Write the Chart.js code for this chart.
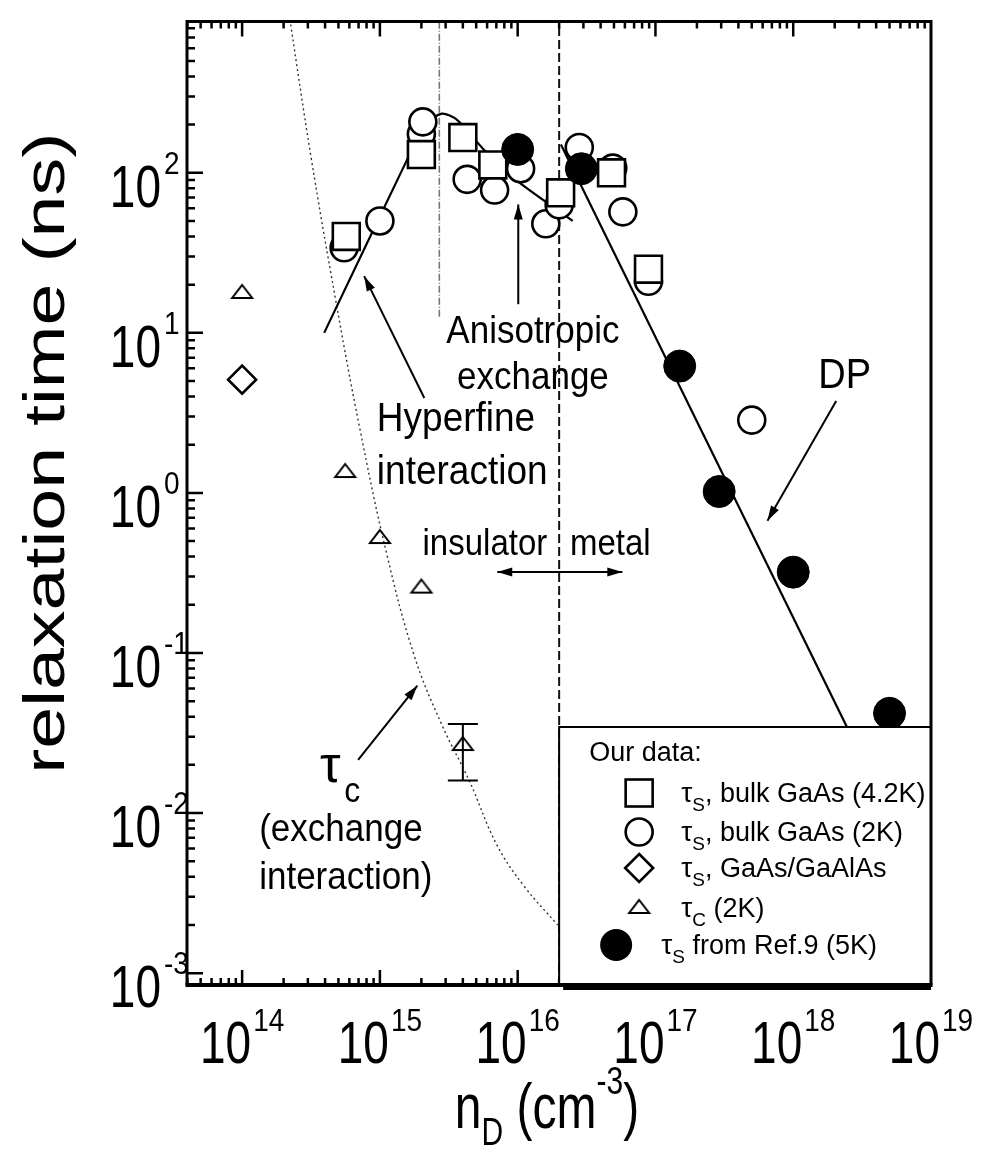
<!DOCTYPE html>
<html>
<head>
<meta charset="utf-8">
<script src="https://cdn.jsdelivr.net/npm/chart.js@4.4.1/dist/chart.umd.min.js"></script>
<style>
  html, body { margin: 0; padding: 0; background: #fff; }
</style>
</head>
<body>
<canvas id="chart" width="983" height="1162"></canvas>
<script>
// tau_s, bulk GaAs (4.2K) - open squares
const bulk42X = [5.7e14, 2.0e15, 4.0e15, 6.6e15, 2.05e16, 4.8e16, 8.9e16];
const bulk42Y = [40, 130, 166, 112, 75, 100, 25];
// tau_s, bulk GaAs (2K) - open circles
const bulk2X = [5.5e14, 1.0e15, 2.0e15, 2.05e15, 4.3e15, 6.8e15, 1.05e16, 1.6e16, 2.0e16, 2.8e16, 4.9e16, 5.8e16, 8.9e16, 5.0e17];
const bulk2Y = [34, 50, 175, 208, 91, 78, 106, 48, 63, 144, 107, 57, 21, 2.85];
// tau_s, GaAs/GaAlAs - diamond
const qwX = [1.0e14];
const qwY = [5.1];
// tau_c (2K) - triangles, with error bar bounds
const tcX = [1.0e14, 5.6e14, 1.0e15, 2.0e15, 4.0e15];
const tcY = [18, 1.37, 0.53, 0.26, 0.027];
const tcLow = [null, null, null, null, 0.016];
const tcHigh = [null, null, null, null, 0.036];
// tau_s from Ref.9 (5K) - filled circles
const ref9X = [1.0e16, 2.9e16, 1.5e17, 2.9e17, 1.0e18, 5.0e18];
const ref9Y = [140, 106, 6.2, 1.02, 0.32, 0.042];

// hyperfine / anisotropic exchange curve
const hfFitX = [3.94e14, 1.57e15, 2.14e15, 2.82e15, 3.63e15, 5.62e15, 9.6e15, 2.51e16];
const hfFitY = [10, 120, 200, 234, 214, 141, 91, 50];
// Dyakonov-Perel line
const dpFitX = [2.06e16, 2.51e18];
const dpFitY = [150, 0.0331];
// tau_c exchange curve (dotted)
const tcFitX = [2.14e14, 3.16e14, 4.79e14, 7.08e14, 1.12e15, 1.78e15, 2.82e15, 4.47e15, 7.08e15, 1.12e16, 1.95e16];
const tcFitY = [1122, 126, 15.8, 2.63, 0.417, 0.0955, 0.0355, 0.0158, 0.0063, 0.00347, 0.0020];

// metal-insulator transition and hyperfine boundary
const mitX = 2.0e16;
const hfEdgeX = 2.7e15;
const hfEdgeBottom = 12.6;

const xMin = 3.98e13, xMax = 1e19;
const yMin = 8.43e-4, yMax = 880;
const xDecades = [14, 15, 16, 17, 18, 19];
const yDecades = [-3, -2, -1, 0, 1, 2];

const FONT = '"Liberation Sans", Arial, Helvetica, sans-serif';
const pts = (xs, ys) => xs.map((x, i) => ({ x: x, y: ys[i] }));

// open triangle marker (slightly squat like the print)
const triImg = document.createElement('canvas');
triImg.width = 26; triImg.height = 20;
(function () {
  const c = triImg.getContext('2d');
  c.strokeStyle = '#000'; c.lineWidth = 2;
  c.beginPath(); c.moveTo(13, 3); c.lineTo(23, 16); c.lineTo(3, 16); c.closePath(); c.stroke();
})();

function txt(ctx, s, x, y, size, o) {
  o = Object.assign({ align: 'left', base: 'alphabetic', sx: 1, sy: 1, rot: 0 }, o || {});
  ctx.save();
  ctx.translate(x, y);
  if (o.rot) ctx.rotate(o.rot);
  ctx.scale(o.sx, o.sy);
  ctx.font = size + 'px ' + FONT;
  ctx.textAlign = o.align;
  ctx.textBaseline = o.base;
  ctx.fillStyle = '#000';
  ctx.fillText(s, 0, 0);
  ctx.restore();
}
function tw(ctx, s, size) {
  ctx.font = size + 'px ' + FONT;
  return ctx.measureText(s).width;
}
// runs of text with sub / superscripts: [{t, size, dy}]
function runs(ctx, parts, x, y, align, sy) {
  let total = 0;
  parts.forEach(p => { total += tw(ctx, p.t, p.size); });
  let cx = align === 'center' ? x - total / 2 : (align === 'right' ? x - total : x);
  parts.forEach(p => {
    txt(ctx, p.t, cx, y + (p.dy || 0), p.size, { sy: sy || 1 });
    cx += tw(ctx, p.t, p.size);
  });
}
function arrow(ctx, x1, y1, x2, y2, both) {
  ctx.save();
  ctx.strokeStyle = '#000'; ctx.fillStyle = '#000'; ctx.lineWidth = 2;
  ctx.beginPath(); ctx.moveTo(x1, y1); ctx.lineTo(x2, y2); ctx.stroke();
  const head = (ax, ay, bx, by) => {
    const a = Math.atan2(by - ay, bx - ax);
    ctx.beginPath();
    ctx.moveTo(bx, by);
    ctx.lineTo(bx - 15 * Math.cos(a) + 4.5 * Math.sin(a), by - 15 * Math.sin(a) - 4.5 * Math.cos(a));
    ctx.lineTo(bx - 15 * Math.cos(a) - 4.5 * Math.sin(a), by - 15 * Math.sin(a) + 4.5 * Math.cos(a));
    ctx.closePath(); ctx.fill();
  };
  head(x1, y1, x2, y2);
  if (both) head(x2, y2, x1, y1);
  ctx.restore();
}

// annotation anchors in data units
const notes = [
  { x: 1.29e16, y: 10, lines: ['Anisotropic', 'exchange'], size: 35, align: 'center', lh: 46 },
  { x: 9.5e14, y: 2.86, lines: ['Hyperfine', 'interaction'], size: 37, align: 'left', lh: 53 },
  { x: 5.78e15, y: 0.471, lines: ['insulator'], size: 33, align: 'center' },
  { x: 4.7e16, y: 0.471, lines: ['metal'], size: 33, align: 'center' },
  { x: 2.36e18, y: 5.35, lines: ['DP'], size: 38, align: 'center' },
  { x: 1.33e14, y: 0.00785, lines: ['(exchange', 'interaction)'], size: 35, align: 'left', lh: 48 }
];
const arrows = [
  { x1: 2.05e18, y1: 3.75, x2: 6.5e17, y2: 0.671 },
  { x1: 2.1e15, y1: 3.92, x2: 7.69e14, y2: 22.6 },
  { x1: 1.01e16, y1: 15.1, x2: 1.01e16, y2: 63.4 },
  { x1: 6.95e14, y1: 0.0215, x2: 1.87e15, y2: 0.0625 },
  { x1: 7.11e15, y1: 0.321, x2: 5.75e16, y2: 0.321, both: true }
];
const tauCLabel = { x: 4.36e14, y: 0.0187 };

const decor = {
  id: 'decor',
  beforeDraw(chart) {
    const ctx = chart.ctx;
    ctx.save(); ctx.fillStyle = '#fff'; ctx.fillRect(0, 0, chart.width, chart.height); ctx.restore();
  },
  afterDatasetsDraw(chart) {
    const ctx = chart.ctx, xs = chart.scales.x, ys = chart.scales.y, ca = chart.chartArea;
    const X = v => xs.getPixelForValue(v), Y = v => ys.getPixelForValue(v);

    // error bars
    ctx.save(); ctx.strokeStyle = '#000'; ctx.lineWidth = 2;
    tcX.forEach((x, i) => {
      if (tcLow[i] == null) return;
      const px = X(x), lo = Y(tcLow[i]), hi = Y(tcHigh[i]);
      ctx.beginPath(); ctx.moveTo(px, lo); ctx.lineTo(px, hi);
      ctx.moveTo(px - 15, lo); ctx.lineTo(px + 15, lo);
      ctx.moveTo(px - 15, hi); ctx.lineTo(px + 15, hi);
      ctx.stroke();
    });
    ctx.restore();

    // annotations
    notes.forEach(n => {
      n.lines.forEach((s, i) => {
        txt(ctx, s, X(n.x), Y(n.y) + i * (n.lh || 0), n.size, { align: n.align, base: 'middle', sy: 1.1 });
      });
    });
    arrows.forEach(a => arrow(ctx, X(a.x1), Y(a.y1), X(a.x2), Y(a.y2), a.both));
    txt(ctx, '\u03c4', X(tauCLabel.x), Y(tauCLabel.y) + 12, 52, { align: 'center' });
    txt(ctx, 'c', X(tauCLabel.x) + 22, Y(tauCLabel.y) + 32, 32, { align: 'center', sy: 1.1 });

    // inward ticks: left, bottom, top
    ctx.save(); ctx.strokeStyle = '#000'; ctx.lineWidth = 2.5;
    ctx.beginPath();
    yDecades.forEach(d => {
      for (let m = 1; m <= 9; m++) {
        const v = m * Math.pow(10, d);
        if (v < yMin || v > yMax) continue;
        const py = Y(v), len = m === 1 ? 16 : 8;
        ctx.moveTo(ca.left, py); ctx.lineTo(ca.left + len, py);
      }
    });
    for (let d = 13; d <= 18; d++) {
      for (let m = 1; m <= 9; m++) {
        const v = m * Math.pow(10, d);
        if (v < xMin || v > xMax) continue;
        const px = X(v), len = m === 1 ? 15 : 7;
        ctx.moveTo(px, ca.bottom); ctx.lineTo(px, ca.bottom - len);
        ctx.moveTo(px, ca.top); ctx.lineTo(px, ca.top + len);
      }
    }
    ctx.stroke(); ctx.restore();

    // legend box
    const lb = { left: X(mitX), top: ca.bottom - 258, right: ca.right, bottom: ca.bottom };
    ctx.save();
    ctx.fillStyle = '#000';
    ctx.fillRect(lb.left + 4, lb.bottom, lb.right - lb.left - 4, 5);
    ctx.fillStyle = '#fff';
    ctx.fillRect(lb.left, lb.top, lb.right - lb.left, lb.bottom - lb.top);
    ctx.strokeStyle = '#000'; ctx.lineWidth = 2;
    ctx.strokeRect(lb.left, lb.top, lb.right - lb.left, lb.bottom - lb.top);
    ctx.restore();
    txt(ctx, 'Our data:', lb.left + 30, lb.top + 34, 27);
    const symX = lb.left + 80, textX = lb.left + 122;
    const rowY = [66, 105, 141, 181, 218].map(v => lb.top + v);
    ctx.save(); ctx.strokeStyle = '#000'; ctx.lineWidth = 2.6;
    ctx.strokeRect(symX - 13.5, rowY[0] - 13.5, 27, 27);
    ctx.beginPath(); ctx.arc(symX, rowY[1], 13.5, 0, Math.PI * 2); ctx.stroke();
    ctx.beginPath(); ctx.moveTo(symX, rowY[2] - 14); ctx.lineTo(symX + 14, rowY[2]);
    ctx.lineTo(symX, rowY[2] + 14); ctx.lineTo(symX - 14, rowY[2]); ctx.closePath(); ctx.stroke();
    ctx.drawImage(triImg, symX - 13, rowY[3] - 11);
    ctx.fillStyle = '#000';
    ctx.beginPath(); ctx.arc(symX - 23, rowY[4], 16, 0, Math.PI * 2); ctx.fill();
    ctx.restore();
    const legendRows = [
      [{ t: '\u03c4', size: 28 }, { t: 'S', size: 19, dy: 9 }, { t: ', bulk GaAs (4.2K)', size: 27 }],
      [{ t: '\u03c4', size: 28 }, { t: 'S', size: 19, dy: 9 }, { t: ', bulk GaAs (2K)', size: 27 }],
      [{ t: '\u03c4', size: 28 }, { t: 'S', size: 19, dy: 9 }, { t: ', GaAs/GaAlAs', size: 27 }],
      [{ t: '\u03c4', size: 28 }, { t: 'C', size: 19, dy: 9 }, { t: ' (2K)', size: 27 }]
    ];
    legendRows.forEach((r, i) => runs(ctx, r, textX, rowY[i] + 9, 'left'));
    runs(ctx, [{ t: '\u03c4', size: 28 }, { t: 'S', size: 19, dy: 9 }, { t: ' from Ref.9 (5K)', size: 27 }],
      textX - 20, rowY[4] + 9, 'left');

    // frame
    ctx.save(); ctx.strokeStyle = '#000';
    ctx.lineWidth = 3;
    ctx.beginPath();
    ctx.moveTo(ca.left, ca.bottom); ctx.lineTo(ca.left, ca.top); ctx.lineTo(ca.right, ca.top); ctx.lineTo(ca.right, ca.bottom);
    ctx.stroke();
    ctx.lineWidth = 4;
    ctx.beginPath(); ctx.moveTo(ca.left - 1.5, ca.bottom); ctx.lineTo(ca.right + 1.5, ca.bottom); ctx.stroke();
    ctx.restore();

    // tick labels
    const mainSize = 46, supSize = 28, sy = 1.3;
    xDecades.forEach(d => {
      const e = String(d);
      const w = tw(ctx, '10', mainSize) + 2 + tw(ctx, e, supSize);
      const x0 = X(Math.pow(10, d)) - w / 2;
      txt(ctx, '10', x0, 1063, mainSize, { sy: sy });
      txt(ctx, e, x0 + tw(ctx, '10', mainSize) + 2, 1031, supSize, { sy: 1.15 });
    });
    yDecades.forEach(d => {
      const py = Y(Math.pow(10, d));
      txt(ctx, '10', ca.left - 26, py + 34, mainSize, { align: 'right', sy: sy });
      txt(ctx, String(d), ca.left - 23, py + 1, supSize, { align: 'left', sy: 1.15 });
    });

    // axis titles
    txt(ctx, 'relaxation time (ns)', 64, (ca.top + ca.bottom) / 2 - 50, 58, { align: 'center', rot: -Math.PI / 2, sx: 1.3 });
    runs(ctx, [
      { t: 'n', size: 48 }, { t: 'D', size: 30, dy: 17 }, { t: ' (cm', size: 48 },
      { t: '-3', size: 30, dy: -34 }, { t: ')', size: 48 }
    ], 547, 1128, 'center', 1.3);
  }
};

new Chart(document.getElementById('chart'), {
  type: 'scatter',
  data: {
    datasets: [
      {
        label: 'tau_s from Ref.9 (5K)',
        data: pts(ref9X, ref9Y),
        pointStyle: 'circle', pointRadius: 16,
        pointBackgroundColor: '#000', pointBorderColor: '#000', pointBorderWidth: 1,
        order: 1
      },
      {
        label: 'tau_s, bulk GaAs (4.2K)',
        data: pts(bulk42X, bulk42Y),
        pointStyle: 'rect', pointRadius: 19,
        pointBackgroundColor: '#fff', pointBorderColor: '#000', pointBorderWidth: 2.6,
        order: 2
      },
      {
        label: 'tau_s, bulk GaAs (2K)',
        data: pts(bulk2X, bulk2Y),
        pointStyle: 'circle', pointRadius: 13.5,
        pointBackgroundColor: '#fff', pointBorderColor: '#000', pointBorderWidth: 2.6,
        order: 3
      },
      {
        label: 'tau_s, GaAs/GaAlAs',
        data: pts(qwX, qwY),
        pointStyle: 'rectRot', pointRadius: 14,
        pointBackgroundColor: '#fff', pointBorderColor: '#000', pointBorderWidth: 2.6,
        order: 4
      },
      {
        label: 'tau_c (2K)',
        data: pts(tcX, tcY),
        pointStyle: triImg,
        order: 5
      },
      {
        label: 'hyperfine / anisotropic exchange',
        data: pts(hfFitX, hfFitY),
        showLine: true, pointRadius: 0, borderColor: '#000', borderWidth: 2.2,
        tension: 0.25, order: 10
      },
      {
        label: 'DP',
        data: pts(dpFitX, dpFitY),
        showLine: true, pointRadius: 0, borderColor: '#000', borderWidth: 2.2,
        order: 10
      },
      {
        label: 'tau_c curve',
        data: pts(tcFitX, tcFitY),
        showLine: true, pointRadius: 0, borderColor: '#333', borderWidth: 1.4,
        borderDash: [2, 3], tension: 0.4, order: 11
      },
      {
        label: 'MIT',
        data: [{ x: mitX, y: yMin }, { x: mitX, y: yMax }],
        showLine: true, pointRadius: 0, borderColor: '#111', borderWidth: 2,
        borderDash: [9, 4], order: 12
      },
      {
        label: 'hyperfine edge',
        data: [{ x: hfEdgeX, y: hfEdgeBottom }, { x: hfEdgeX, y: yMax }],
        showLine: true, pointRadius: 0, borderColor: '#777', borderWidth: 1.6,
        borderDash: [7, 2, 1, 2], order: 12
      }
    ]
  },
  options: {
    responsive: false,
    animation: false,
    layout: { padding: { left: 187, top: 10, right: 52, bottom: 177 } },
    scales: {
      x: { type: 'logarithmic', min: xMin, max: xMax, display: false },
      y: { type: 'logarithmic', min: yMin, max: yMax, display: false }
    },
    plugins: {
      legend: { display: false },
      tooltip: { enabled: false }
    }
  },
  plugins: [decor]
});
</script>
</body>
</html>
